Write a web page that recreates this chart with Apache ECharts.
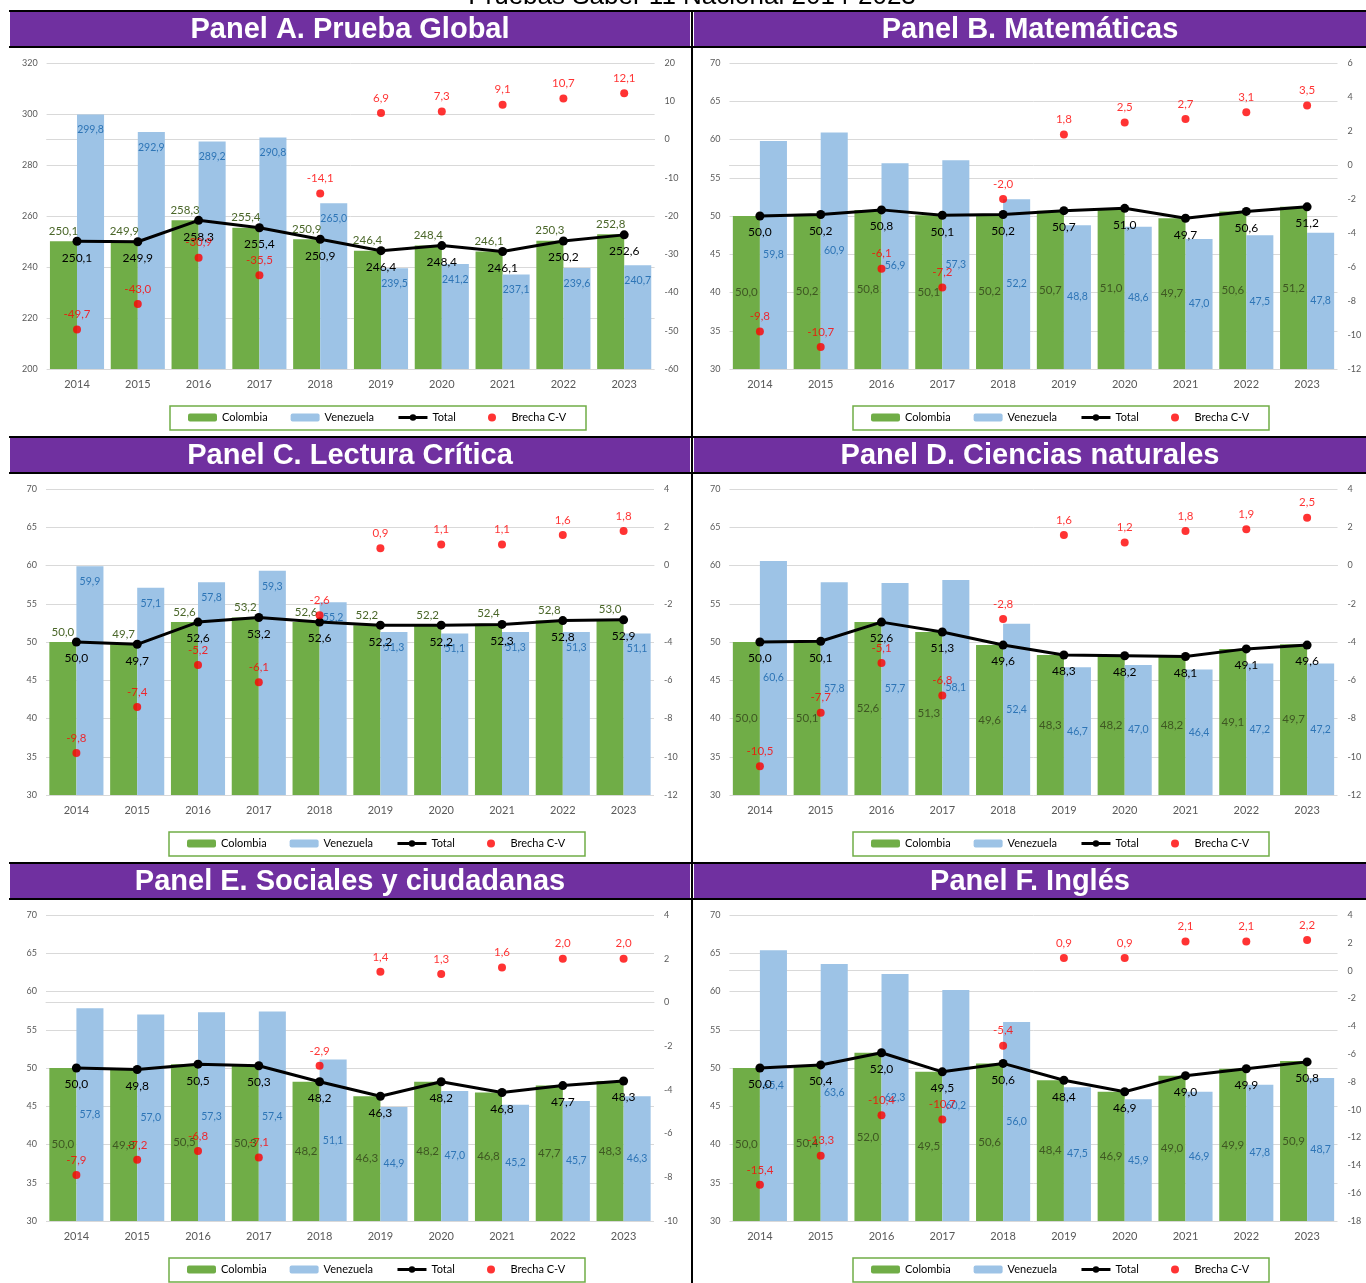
<!DOCTYPE html>
<html>
<head>
<meta charset="utf-8">
<script src="https://cdn.jsdelivr.net/npm/echarts@6/dist/echarts.min.js"></script>
<style>
  html, body { margin: 0; padding: 0; background: #fff; }
  #chart { width: 1366px; height: 1283px; }
</style>
</head>
<body>
<div id="chart"></div>
<script>
// datos
var years = ['2014','2015','2016','2017','2018','2019','2020','2021','2022','2023'];
var panelTitles = ['Panel A. Prueba Global','Panel B. Matemáticas','Panel C. Lectura Crítica',
                   'Panel D. Ciencias naturales','Panel E. Sociales y ciudadanas','Panel F. Inglés'];

var colombiaA = [250.1,249.9,258.3,255.4,250.9,246.4,248.4,246.1,250.3,252.8];
var venezuelaA = [299.8,292.9,289.2,290.8,265.0,239.5,241.2,237.1,239.6,240.7];
var totalA = [250.1,249.9,258.3,255.4,250.9,246.4,248.4,246.1,250.2,252.6];
var brechaA = [-49.7,-43.0,-30.9,-35.5,-14.1,6.9,7.3,9.1,10.7,12.1];

var colombiaB = [50.0,50.2,50.8,50.1,50.2,50.7,51.0,49.7,50.6,51.2];
var venezuelaB = [59.8,60.9,56.9,57.3,52.2,48.8,48.6,47.0,47.5,47.8];
var totalB = [50.0,50.2,50.8,50.1,50.2,50.7,51.0,49.7,50.6,51.2];
var brechaB = [-9.8,-10.7,-6.1,-7.2,-2.0,1.8,2.5,2.7,3.1,3.5];

var colombiaC = [50.0,49.7,52.6,53.2,52.6,52.2,52.2,52.4,52.8,53.0];
var venezuelaC = [59.9,57.1,57.8,59.3,55.2,51.3,51.1,51.3,51.3,51.1];
var totalC = [50.0,49.7,52.6,53.2,52.6,52.2,52.2,52.3,52.8,52.9];
var brechaC = [-9.8,-7.4,-5.2,-6.1,-2.6,0.9,1.1,1.1,1.6,1.8];

var colombiaD = [50.0,50.1,52.6,51.3,49.6,48.3,48.2,48.2,49.1,49.7];
var venezuelaD = [60.6,57.8,57.7,58.1,52.4,46.7,47.0,46.4,47.2,47.2];
var totalD = [50.0,50.1,52.6,51.3,49.6,48.3,48.2,48.1,49.1,49.6];
var brechaD = [-10.5,-7.7,-5.1,-6.8,-2.8,1.6,1.2,1.8,1.9,2.5];

var colombiaE = [50.0,49.8,50.5,50.3,48.2,46.3,48.2,46.8,47.7,48.3];
var venezuelaE = [57.8,57.0,57.3,57.4,51.1,44.9,47.0,45.2,45.7,46.3];
var totalE = [50.0,49.8,50.5,50.3,48.2,46.3,48.2,46.8,47.7,48.3];
var brechaE = [-7.9,-7.2,-6.8,-7.1,-2.9,1.4,1.3,1.6,2.0,2.0];

var colombiaF = [50.0,50.4,52.0,49.5,50.6,48.4,46.9,49.0,49.9,50.9];
var venezuelaF = [65.4,63.6,62.3,60.2,56.0,47.5,45.9,46.9,47.8,48.7];
var totalF = [50.0,50.4,52.0,49.5,50.6,48.4,46.9,49.0,49.9,50.8];
var brechaF = [-15.4,-13.3,-10.4,-10.7,-5.4,0.9,0.9,2.1,2.1,2.2];

// ejes (ticks)
var leftMin = [200,30,30,30,30,30];
var leftMax = [320,70,70,70,70,70];
var leftStep = [20,5,5,5,5,5];
var rightMin = [-60,-12,-12,-12,-10,-18];
var rightMax = [20,6,4,4,4,4];
var rightStep = [10,2,2,2,2,2];

var colombia = [colombiaA,colombiaB,colombiaC,colombiaD,colombiaE,colombiaF];
var venezuela = [venezuelaA,venezuelaB,venezuelaC,venezuelaD,venezuelaE,venezuelaF];
var total = [totalA,totalB,totalC,totalD,totalE,totalF];
var brecha = [brechaA,brechaB,brechaC,brechaD,brechaE,brechaF];

// layout
var gridLeft = [46.6,729.5,46,729.5,46,729.5];
var gridTop = [63,63,489,489,915,915];
var boxLeft = [170,853,169,853,169,853];
var boxTop = [406,406,832,832,1258,1258];
var headTop = [12,12,438,438,864,864];
var headLeft = [10,694,10,694,10,694];
var labelsAbove = [true,false,true,false,false,false];

var FONT = 'Lato';
function fmt(v){ return v.toFixed(1).replace('.', ','); }

var grids = [], xAxes = [], yAxes = [], series = [], legends = [], graphics = [];

graphics.push({
  type: 'text', z: 1,
  style: { x: 692, y: 10, text: 'Pruebas Saber 11 Nacional 2014-2023', fill: '#000',
           font: '26px "Liberation Sans"', align: 'center', verticalAlign: 'bottom' }
});

for (var i = 0; i < 6; i++) {
  var hw = (i % 2 == 0) ? 680 : 672;
  graphics.push({ type: 'rect', z: 2, shape: { x: headLeft[i], y: headTop[i], width: hw, height: 35 },
                  style: { fill: '#7030A0' } });
  graphics.push({ type: 'text', z: 3,
    style: { x: headLeft[i] + hw / 2, y: headTop[i] + 18, text: panelTitles[i], fill: '#fff',
             font: 'bold 29px "Liberation Sans"', align: 'center', verticalAlign: 'middle' } });
  graphics.push({ type: 'rect', z: 1, shape: { x: boxLeft[i], y: boxTop[i], width: 416, height: 24 },
                  style: { fill: 'none', stroke: '#70AD47', lineWidth: 1.5 } });

  grids.push({ left: gridLeft[i], top: gridTop[i], width: 608, height: 306 });
  xAxes.push({
    type: 'category', gridIndex: i, data: years,
    axisLine: { lineStyle: { color: '#D9D9D9' } }, axisTick: { show: false },
    axisLabel: { color: '#595959', fontSize: 11, fontFamily: FONT, margin: 10 }
  });
  yAxes.push({
    type: 'value', gridIndex: i, min: leftMin[i], max: leftMax[i], interval: leftStep[i],
    axisLine: { show: false }, axisTick: { show: false },
    axisLabel: { color: '#595959', fontSize: 9, fontFamily: FONT, margin: 9 },
    splitLine: { lineStyle: { color: '#D9D9D9', width: 1 } }
  });
  yAxes.push({
    type: 'value', gridIndex: i, position: 'right', min: rightMin[i], max: rightMax[i], interval: rightStep[i],
    axisLine: { show: false }, axisTick: { show: false }, splitLine: { show: false },
    axisLabel: { color: '#595959', fontSize: 9, fontFamily: FONT, margin: 10 }
  });

  var above = labelsAbove[i];
  series.push({
    name: 'Colombia', type: 'bar', xAxisIndex: i, yAxisIndex: 2 * i, data: colombia[i],
    barGap: '0%', barCategoryGap: '11%',
    itemStyle: { color: '#70AD47' },
    label: { show: true, position: above ? 'top' : 'inside', distance: 4,
             color: above ? '#4A6629' : '#3E5722',
             fontSize: 11.5, fontFamily: FONT, formatter: function (p) { return fmt(p.value); } }
  });
  series.push({
    name: 'Venezuela', type: 'bar', xAxisIndex: i, yAxisIndex: 2 * i, data: venezuela[i],
    itemStyle: { color: '#9DC3E6' },
    label: { show: true, position: above ? 'insideTop' : 'inside', distance: 10, color: '#2E75B6',
             fontSize: 10.5, fontFamily: FONT, formatter: function (p) { return fmt(p.value); } }
  });
  series.push({
    name: 'Total', type: 'line', xAxisIndex: i, yAxisIndex: 2 * i, data: total[i], z: 5,
    symbol: 'circle', symbolSize: 9, itemStyle: { color: '#000' },
    lineStyle: { color: '#000', width: 3 },
    label: { show: true, position: 'bottom', distance: 6, color: '#000',
             fontSize: 12, fontFamily: FONT, formatter: function (p) { return fmt(p.value); } }
  });
  series.push({
    name: 'Brecha C-V', type: 'scatter', xAxisIndex: i, yAxisIndex: 2 * i + 1, data: brecha[i], z: 6,
    symbol: 'circle', symbolSize: 8, itemStyle: { color: '#FF0000' },
    label: { show: true, position: 'top', distance: 5, color: '#FF0000',
             fontSize: 11.5, fontFamily: FONT,
             formatter: function (p) { return fmt(Array.isArray(p.value) ? p.value[1] : p.value); } }
  });

  legends.push({
    left: boxLeft[i] + 18, top: boxTop[i] + 6, padding: 0, itemGap: 23,
    itemWidth: 29, itemHeight: 8,
    lineStyle: { width: 3 },
    textStyle: { color: '#000', fontSize: 11, fontFamily: FONT },
    data: ['Colombia', 'Venezuela', 'Total']
  });
  legends.push({
    left: boxLeft[i] + 318, top: boxTop[i] + 6, padding: 0,
    itemWidth: 29, itemHeight: 8,
    textStyle: { color: '#000', fontSize: 11, fontFamily: FONT },
    data: ['Brecha C-V']
  });
}

// líneas negras de separación
for (var r = 0; r < 3; r++) {
  var y0 = [12, 438, 864][r];
  graphics.push({ type: 'line', z: 4, shape: { x1: 9, y1: y0 - 1, x2: 1366, y2: y0 - 1 },
                  style: { stroke: '#000', lineWidth: 2 } });
  graphics.push({ type: 'line', z: 4, shape: { x1: 9, y1: y0 + 35, x2: 1366, y2: y0 + 35 },
                  style: { stroke: '#000', lineWidth: 2 } });
}
graphics.push({ type: 'line', z: 4, shape: { x1: 692, y1: 10, x2: 692, y2: 1283 },
                style: { stroke: '#000', lineWidth: 2 } });

var myChart = echarts.init(document.getElementById('chart'));
myChart.setOption({
  animation: false,
  backgroundColor: '#fff',
  grid: grids,
  xAxis: xAxes,
  yAxis: yAxes,
  legend: legends,
  series: series,
  graphic: graphics
});
</script>
</body>
</html>
